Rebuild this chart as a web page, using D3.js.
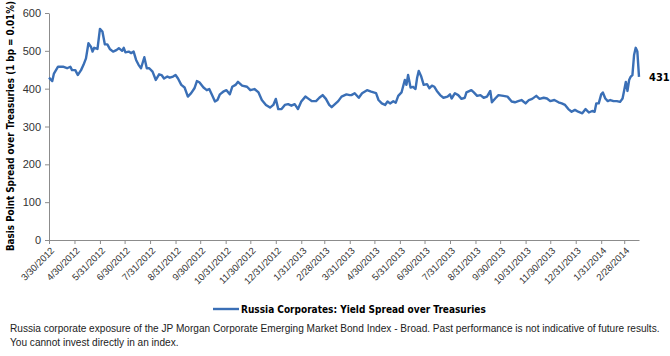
<!DOCTYPE html>
<html>
<head>
<meta charset="utf-8">
<script src="https://cdnjs.cloudflare.com/ajax/libs/d3/7.8.5/d3.min.js"></script>
<style>
  body { margin: 0; background: #fff; }
  .axis text { font-family: "Liberation Sans", Arial, sans-serif; font-size: 11px; fill: #333; }
  .axis path, .axis line { stroke: #8c8c8c; }
  .bold { font-family: "DejaVu Sans Condensed", "Liberation Sans", sans-serif; font-weight: bold; font-size: 11px; fill: #000; }
</style>
</head>
<body>
<div id="graphic"></div>
<script>
// daily readings of the spread (bp)
var dates = [
  "3/30/2012","4/3/2012","4/5/2012","4/10/2012","4/16/2012","4/21/2012","4/25/2012","4/27/2012","5/1/2012","5/4/2012",
  "5/8/2012","5/11/2012","5/14/2012","5/17/2012","5/20/2012","5/22/2012","5/24/2012","5/28/2012","5/31/2012","6/3/2012",
  "6/6/2012","6/9/2012","6/12/2012","6/16/2012","6/20/2012","6/23/2012","6/27/2012","6/29/2012","7/1/2012","7/5/2012",
  "7/8/2012","7/11/2012","7/14/2012","7/17/2012","7/20/2012","7/24/2012","7/27/2012","7/30/2012","8/3/2012","8/7/2012",
  "8/11/2012","8/14/2012","8/17/2012","8/21/2012","8/24/2012","8/28/2012","8/31/2012","9/3/2012","9/7/2012","9/11/2012",
  "9/15/2012","9/19/2012","9/23/2012","9/26/2012","9/29/2012","10/4/2012","10/8/2012","10/11/2012","10/14/2012","10/18/2012",
  "10/21/2012","10/24/2012","10/28/2012","11/1/2012","11/5/2012","11/8/2012","11/12/2012","11/15/2012","11/20/2012","11/26/2012",
  "11/30/2012","12/5/2012","12/10/2012","12/14/2012","12/19/2012","12/24/2012","12/28/2012","12/31/2012","1/3/2013","1/7/2013",
  "1/11/2013","1/15/2013","1/19/2013","1/23/2013","1/27/2013","1/31/2013","2/5/2013","2/9/2013","2/13/2013","2/18/2013",
  "2/22/2013","2/26/2013","3/2/2013","3/6/2013","3/9/2013","3/13/2013","3/17/2013","3/21/2013","3/27/2013","3/31/2013",
  "4/2/2013","4/6/2013","4/11/2013","4/15/2013","4/21/2013","4/26/2013","5/2/2013","5/5/2013","5/9/2013","5/13/2013",
  "5/16/2013","5/19/2013","5/23/2013","5/26/2013","5/29/2013","6/2/2013","6/6/2013","6/8/2013","6/10/2013","6/13/2013",
  "6/16/2013","6/19/2013","6/21/2013","6/23/2013","6/26/2013","6/29/2013","7/3/2013","7/6/2013","7/9/2013","7/12/2013",
  "7/15/2013","7/19/2013","7/23/2013","7/28/2013","7/31/2013","8/2/2013","8/6/2013","8/10/2013","8/14/2013","8/18/2013",
  "8/20/2013","8/26/2013","8/29/2013","9/2/2013","9/6/2013","9/10/2013","9/14/2013","9/18/2013","9/20/2013","9/24/2013",
  "9/28/2013","10/4/2013","10/9/2013","10/14/2013","10/18/2013","10/22/2013","10/26/2013","10/31/2013","11/4/2013","11/8/2013",
  "11/13/2013","11/17/2013","11/22/2013","11/26/2013","11/30/2013","12/5/2013","12/10/2013","12/14/2013","12/18/2013","12/22/2013",
  "12/26/2013","12/30/2013","1/3/2014","1/8/2014","1/12/2014","1/16/2014","1/20/2014","1/23/2014","1/25/2014","1/28/2014",
  "1/31/2014","2/2/2014","2/5/2014","2/8/2014","2/11/2014","2/15/2014","2/19/2014","2/23/2014","2/26/2014","2/28/2014",
  "3/2/2014","3/4/2014","3/6/2014","3/8/2014","3/10/2014","3/12/2014","3/14/2014","3/16/2014","3/18/2014"
];
var spread = [
  429,420,440,458,458,454,458,449,449,436,
  449,463,480,520,511,498,508,505,558,551,
  517,517,505,498,502,507,500,508,496,498,
  494,498,476,463,454,483,454,454,445,423,
  438,436,427,432,429,432,436,427,410,403,
  379,388,401,420,417,403,396,399,385,366,
  370,385,392,396,385,405,410,418,408,405,
  396,399,390,370,357,350,357,373,346,346,
  357,359,355,359,346,366,379,373,367,367,
  376,383,373,357,351,359,367,379,385,383,
  383,388,376,388,396,392,388,370,361,357,
  366,361,367,363,381,390,423,410,436,403,
  405,399,429,447,432,410,412,401,408,405,
  394,383,376,379,385,374,388,383,373,376,
  390,396,390,381,383,376,379,394,364,374,
  383,381,379,366,364,367,370,361,370,373,
  381,373,376,374,367,370,364,361,357,346,
  339,344,339,335,346,337,341,339,361,361,
  385,390,374,367,370,367,367,365,374,396,
  418,394,423,432,436,489,508,498,431
];
var tickLabels = ["3/30/2012","4/30/2012","5/31/2012","6/30/2012","7/31/2012","8/31/2012","9/30/2012","10/31/2012",
  "11/30/2012","12/31/2012","1/31/2013","2/28/2013","3/31/2013","4/30/2013","5/31/2013","6/30/2013","7/31/2013",
  "8/31/2013","9/30/2013","10/31/2013","11/30/2013","12/31/2013","1/31/2014","2/28/2014"];
var yTicks = [0, 100, 200, 300, 400, 500, 600];
var seriesName = "Russia Corporates: Yield Spread over Treasuries";
var yTitle = "Basis Point Spread over Treasuries (1 bp = 0.01%)";
var note1 = "Russia corporate exposure of the JP Morgan Corporate Emerging Market Bond Index - Broad. Past performance is not indicative of future results.";
var note2 = "You cannot invest directly in an index.";

var parse = d3.timeParse("%m/%d/%Y");
var data = dates.map(function (d, i) { return { date: parse(d), value: spread[i] }; });
var tickDates = tickLabels.map(parse);

var W = 670, H = 356;
var margin = {top: 13, right: 31, bottom: 116, left: 49},
    width = W - margin.left - margin.right,
    height = H - margin.top - margin.bottom;

var x = d3.scaleTime()
          .domain(d3.extent(data, function (d) { return d.date; }))
          .range([0, width]);
var y = d3.scaleLinear()
          .domain([0, 600])
          .range([height, 0]);

var svg = d3.select("#graphic").append("svg")
    .attr("width", W)
    .attr("height", H)
    .style("display", "block");
svg.append("rect").attr("width", W).attr("height", H).attr("fill", "#fff");

var g = svg.append("g")
    .attr("transform", "translate(" + margin.left + "," + margin.top + ")");

// x axis
var xAxis = g.append("g")
    .attr("class", "axis")
    .attr("transform", "translate(0," + height + ")")
    .call(d3.axisBottom(x).tickValues(tickDates)
      .tickFormat(function (d, i) { return tickLabels[i]; })
      .tickSize(4).tickSizeOuter(0));
xAxis.selectAll("text")
    .style("font-size", "9.5px")
    .attr("text-anchor", "end")
    .attr("x", 0).attr("y", 0).attr("dy", "0.35em")
    .attr("transform", "translate(3,9) rotate(-45)");

// y axis
g.append("g")
    .attr("class", "axis")
    .call(d3.axisLeft(y).tickValues(yTicks).tickSize(4).tickSizeOuter(0).tickPadding(4));

// y title
svg.append("text")
    .attr("class", "bold")
    .style("font-size", "9.8px")
    .attr("transform", "translate(14,126) rotate(-90)")
    .attr("text-anchor", "middle")
    .text(yTitle);

// the line
var line = d3.line()
    .x(function (d) { return x(d.date); })
    .y(function (d) { return y(d.value); });
g.append("path")
    .datum(data)
    .attr("fill", "none")
    .attr("stroke", "#3a6fb6")
    .attr("stroke-width", 2.4)
    .attr("stroke-linejoin", "round")
    .attr("d", line);

// last value label
var last = data[data.length - 1];
g.append("text")
    .attr("class", "bold")
    .attr("x", x(last.date) + 10)
    .attr("y", y(last.value))
    .attr("dy", "0.35em")
    .text(last.value);

// legend
var leg = svg.append("g").attr("transform", "translate(213,309)");
leg.append("line")
    .attr("x1", 0).attr("x2", 26)
    .attr("stroke", "#3a6fb6").attr("stroke-width", 2.4);
leg.append("text")
    .attr("class", "bold")
    .style("font-size", "10px")
    .attr("x", 28).attr("dy", "0.35em")
    .text(seriesName);

// footnote
var foot = svg.append("g")
    .style("font-family", "'Liberation Sans', Arial, sans-serif")
    .style("font-size", "10.1px")
    .style("fill", "#222");
foot.append("text").attr("x", 10).attr("y", 332).text(note1);
foot.append("text").attr("x", 10).attr("y", 346).text(note2);
</script>
</body>
</html>
